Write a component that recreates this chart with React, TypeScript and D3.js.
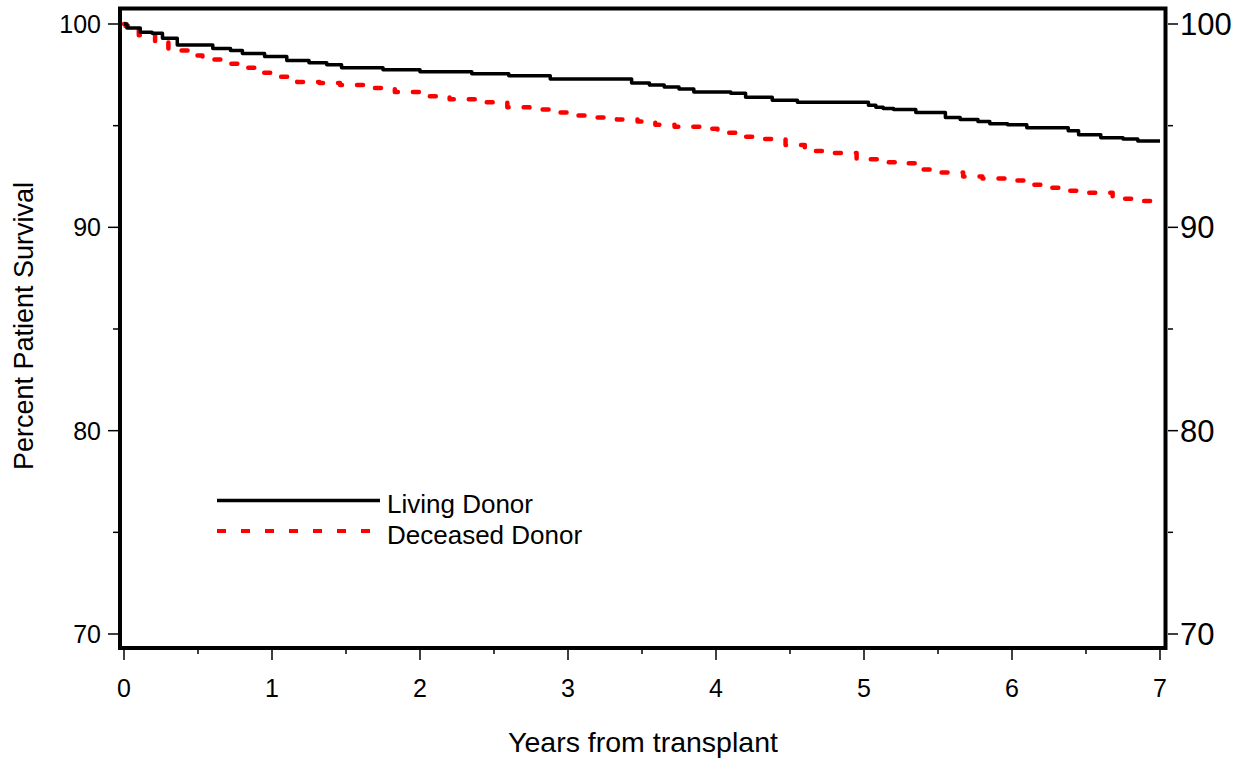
import React from "react";
import * as d3 from "d3";

const livingT = [0, 0.02, 0.11, 0.19, 0.26, 0.36, 0.6, 0.72, 0.8, 0.95, 1.1, 1.25, 1.37, 1.47, 1.75, 2.0, 2.35, 2.6, 2.88, 3.43, 3.55, 3.65, 3.75, 3.85, 4.1, 4.2, 4.38, 4.55, 5.03, 5.08, 5.13, 5.2, 5.35, 5.55, 5.65, 5.77, 5.85, 5.97, 6.1, 6.38, 6.45, 6.6, 6.75, 6.85, 7.0];
const livingV = [100, 99.8, 99.6, 99.55, 99.3, 98.97, 98.8, 98.7, 98.55, 98.4, 98.2, 98.1, 98.0, 97.85, 97.75, 97.65, 97.55, 97.45, 97.3, 97.1, 97.0, 96.9, 96.8, 96.65, 96.6, 96.4, 96.25, 96.15, 96.0, 95.9, 95.85, 95.8, 95.65, 95.4, 95.3, 95.2, 95.1, 95.05, 94.9, 94.75, 94.55, 94.4, 94.35, 94.25, 94.25];

const deceasedT = [0, 0.01, 0.1, 0.21, 0.3, 0.43, 0.53, 0.66, 0.78, 0.93, 1.04, 1.17, 1.32, 1.46, 1.66, 1.83, 2.0, 2.2, 2.4, 2.59, 2.74, 2.91, 3.06, 3.2, 3.33, 3.47, 3.59, 3.72, 3.89, 4.01, 4.16, 4.31, 4.47, 4.6, 4.77, 4.95, 5.09, 5.26, 5.38, 5.51, 5.67, 5.8, 5.95, 6.1, 6.2, 6.34, 6.5, 6.68, 6.83, 6.95, 7.0];
const deceasedV = [100, 99.9, 99.45, 99.1, 98.7, 98.45, 98.25, 98.05, 97.85, 97.6, 97.4, 97.15, 97.1, 97.0, 96.85, 96.65, 96.45, 96.3, 96.15, 95.9, 95.8, 95.65, 95.5, 95.4, 95.3, 95.2, 95.05, 94.95, 94.85, 94.65, 94.45, 94.35, 94.05, 93.75, 93.65, 93.35, 93.2, 93.15, 92.85, 92.7, 92.5, 92.4, 92.3, 92.1, 91.95, 91.8, 91.7, 91.4, 91.3, 91.1, 91.1];

const xMajor = [0, 1, 2, 3, 4, 5, 6, 7];
const xMinor = [0.5, 1.5, 2.5, 3.5, 4.5, 5.5, 6.5];
const yMajor = [70, 80, 90, 100];
const yMinor = [75, 85, 95];

const seriesNames = ["Living Donor", "Deceased Donor"];

const FONT = "'Liberation Sans', Arial, Helvetica, sans-serif";

export default function App() {
  const W = 1246, H = 764;
  const x = d3.scaleLinear().domain([0, 7]).range([124, 1160]);
  const y = d3.scaleLinear().domain([70, 100]).range([634, 24]);
  const frame = { left: 120, top: 8.5, right: 1165.5, bottom: 648 };

  const line = d3
    .line<[number, number]>()
    .x((d) => x(d[0]))
    .y((d) => y(d[1]))
    .curve(d3.curveStepAfter);

  const living: [number, number][] = livingT.map((t, i) => [t, livingV[i]]);
  const deceased: [number, number][] = deceasedT.map((t, i) => [t, deceasedV[i]]);

  const leftEdge = frame.left - 2;
  const rightEdge = frame.right + 2.5;
  const bottomEdge = frame.bottom + 2;

  return (
    <svg
      width={W}
      height={H}
      style={{ position: "absolute", left: 0, top: 0, background: "#fff" }}
      fontFamily={FONT}
    >
      <rect x={0} y={0} width={W} height={H} fill="#fff" />
      {/* curves */}
      <path
        d={line(deceased) || ""}
        fill="none"
        stroke="#ff0000"
        strokeWidth={4.5}
        strokeDasharray="6,15"
        strokeLinecap="round"
        strokeLinejoin="round"
      />
      <path d={line(living) || ""} fill="none" stroke="#000" strokeWidth={3.5} strokeLinejoin="round" />

      {/* frame */}
      <rect
        x={frame.left}
        y={frame.top}
        width={frame.right - frame.left}
        height={frame.bottom - frame.top}
        fill="none"
        stroke="#000"
        strokeWidth={4}
      />

      {/* left axis */}
      {yMajor.map((v) => (
        <g key={"ly" + v}>
          <line x1={leftEdge - 10} x2={leftEdge} y1={y(v)} y2={y(v)} stroke="#000" strokeWidth={1.5} />
          <text x={101} y={y(v)} dy="0.36em" textAnchor="end" fontSize={25} fill="#000">
            {v}
          </text>
        </g>
      ))}
      {yMinor.map((v) => (
        <line key={"lym" + v} x1={leftEdge - 5} x2={leftEdge} y1={y(v)} y2={y(v)} stroke="#000" strokeWidth={1.5} />
      ))}

      {/* right axis */}
      {yMajor.map((v) => (
        <g key={"ry" + v}>
          <line x1={rightEdge} x2={rightEdge + 10} y1={y(v)} y2={y(v)} stroke="#000" strokeWidth={1.5} />
          <text x={1180} y={y(v)} dy="0.36em" textAnchor="start" fontSize={31} fill="#000">
            {v}
          </text>
        </g>
      ))}
      {yMinor.map((v) => (
        <line key={"rym" + v} x1={rightEdge} x2={rightEdge + 5} y1={y(v)} y2={y(v)} stroke="#000" strokeWidth={1.5} />
      ))}

      {/* bottom axis */}
      {xMajor.map((t) => (
        <g key={"bx" + t}>
          <line x1={x(t)} x2={x(t)} y1={bottomEdge} y2={bottomEdge + 10} stroke="#000" strokeWidth={1.5} />
          <text x={x(t)} y={697} textAnchor="middle" fontSize={25} fill="#000">
            {t}
          </text>
        </g>
      ))}
      {xMinor.map((t) => (
        <line key={"bxm" + t} x1={x(t)} x2={x(t)} y1={bottomEdge} y2={bottomEdge + 4} stroke="#000" strokeWidth={1.5} />
      ))}

      {/* axis titles */}
      <text x={643} y={752} textAnchor="middle" fontSize={28.5} fill="#000">
        Years from transplant
      </text>
      <text
        transform={`translate(33, 326) rotate(-90)`}
        textAnchor="middle"
        fontSize={27}
        fill="#000"
      >
        Percent Patient Survival
      </text>

      {/* legend */}
      <line x1={217} x2={380} y1={500.5} y2={500.5} stroke="#000" strokeWidth={3.5} />
      <text x={387} y={513} fontSize={26} fill="#000">
        {seriesNames[0]}
      </text>
      <line x1={217} x2={372} y1={531} y2={531} stroke="#ff0000" strokeWidth={4} strokeDasharray="9,15" />
      <text x={387} y={544} fontSize={26} fill="#000">
        {seriesNames[1]}
      </text>
    </svg>
  );
}
